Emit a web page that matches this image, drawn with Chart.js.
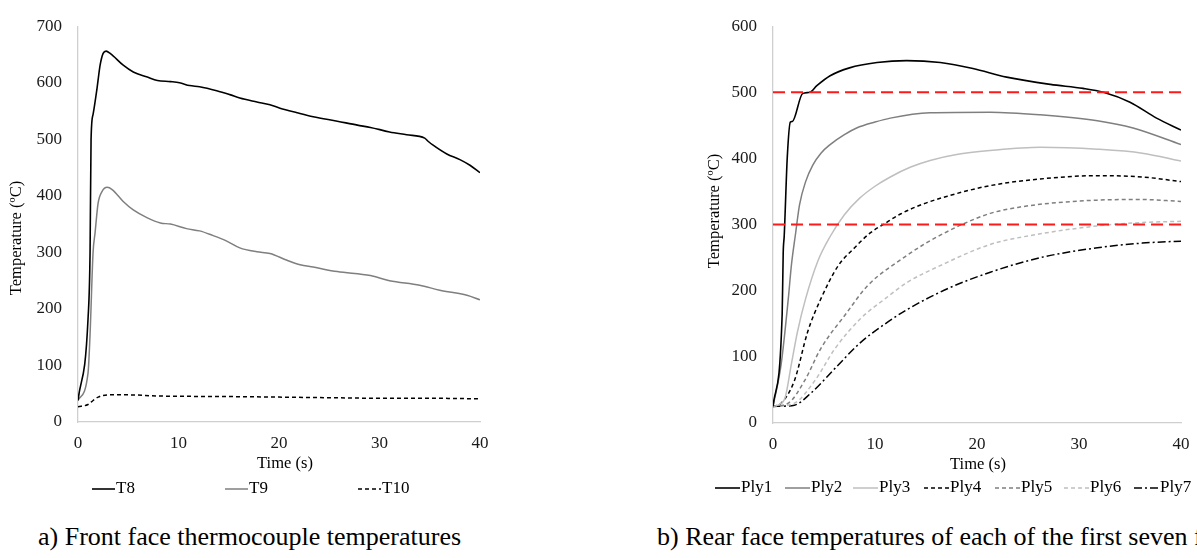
<!DOCTYPE html>
<html>
<head>
<meta charset="utf-8">
<script src="https://cdn.jsdelivr.net/npm/chart.js@4.4.1/dist/chart.umd.min.js"></script>
<style>
  html, body { margin: 0; padding: 0; background: #fff; width: 1197px; height: 558px; overflow: hidden; position: relative; }
  #c1 { position: absolute; left: 0; top: 0; }
  #c2 { position: absolute; left: 600px; top: 0; }
  .cap { position: absolute; font-family: "Liberation Serif", "Times New Roman", serif; font-size: 26px; line-height: 26px; white-space: nowrap; color: #000; }
</style>
</head>
<body>
<canvas id="c1" width="600" height="520"></canvas>
<canvas id="c2" width="640" height="520"></canvas>
<div class="cap" style="left:38px; top:524px;">a) Front face thermocouple temperatures</div>
<div class="cap" style="left:657px; top:524px;">b) Rear face temperatures of each of the first seven fabric plies</div>
<script>
// ---------- Data: front face (chart a) ----------
const labelsA = ["T8", "T9", "T10"];
const timeT8 = [0, 1.0, 1.2, 1.3, 1.5, 1.9, 2.2, 2.5, 2.8, 3.2, 4.5, 5.5, 6.9, 7.9, 9.2, 10.1, 11.1, 12.1, 13.8, 15.1, 16.1, 17.8, 19.1, 20.1, 21.8, 23.4, 25.8, 27.8, 29.1, 31, 32.7, 34.5, 34.8, 35.3, 36.7, 38, 39, 40];
const valT8  = [38, 183, 300, 500, 544, 591, 631, 652, 656, 652, 631, 619, 610, 604, 602, 600, 595, 593, 586, 579, 573, 566, 561, 555, 547, 540, 532, 525, 521, 513, 508, 502, 497, 490, 474, 464, 454, 441];
const timeT9 = [0, 1.0, 1.2, 1.5, 1.7, 2.0, 2.4, 2.9, 3.4, 4.5, 5.5, 6.9, 8.2, 9.2, 10.8, 12.1, 13.4, 14.8, 16.1, 17.8, 19.1, 20.8, 22.1, 23.4, 25.8, 29.1, 31, 34, 36, 38.7, 40];
const valT9  = [38, 87, 155, 300, 335, 387, 408, 415, 411, 390, 375, 361, 352, 350, 342, 338, 330, 320, 308, 301, 298, 286, 278, 274, 266, 259, 250, 242, 233, 224, 216];
const timeT10 = [0, 1.0, 1.5, 2, 3, 5, 8, 15, 20, 25, 30, 35, 40];
const valT10  = [27, 31, 38, 44, 48, 48, 46, 45, 44, 43, 42, 42, 41];

// ---------- Data: rear face plies (chart b) ----------
const labelsB = ["Ply1", "Ply2", "Ply3", "Ply4", "Ply5", "Ply6", "Ply7"];
const timeP1 = [0, 0.9, 1.0, 1.1, 1.4, 1.7, 1.9, 2.9, 3.6, 4.3, 5.6, 7.5, 10.2, 13.1, 16.4, 19.6, 22.9, 27.2, 30.4, 32.4, 35, 37.6, 40];
const valP1  = [25, 165, 257, 283, 402, 455, 456, 498, 500, 510, 525, 537, 545, 548, 545, 536, 523, 512, 506, 500, 485, 461, 443];
const timeP2 = [0, 0.8, 1.5, 1.8, 2.2, 2.6, 3.2, 3.9, 4.7, 5.6, 7, 8.2, 10, 11.5, 15.4, 21.3, 26.2, 31.8, 35.3, 40];
const valP2  = [25, 89, 188, 238, 285, 330, 365, 390, 408, 421, 436, 446, 455, 461, 469, 470, 466, 457, 446, 421];
const timeP3 = [0, 0.6, 1.2, 1.8, 2.4, 3.2, 4.4, 5.6, 7, 8.5, 10, 11.5, 13.5, 15.4, 18, 21.3, 26.2, 31.8, 36.2, 40];
const valP3  = [25, 28, 39, 89, 138, 188, 245, 282, 315, 340, 358, 372, 387, 397, 406, 412, 417, 414, 408, 396];
const timeP4 = [0, 0.8, 2.1, 3.4, 4.7, 6.4, 8, 9.5, 11, 12.5, 14.7, 17.1, 21.3, 26.2, 31.8, 36.2, 40];
const valP4  = [25, 30, 64, 138, 188, 238, 265, 287, 302, 316, 331, 343, 359, 369, 374, 372, 365];
const timeP5 = [0, 1.5, 3.1, 4.7, 7.1, 9.3, 13, 15, 16.4, 18.5, 21.3, 24, 27, 31.8, 36, 40];
const valP5  = [25, 30, 64, 113, 164, 208, 252, 272, 284, 300, 317, 326, 332, 337, 338, 335];
const timeP6 = [0, 2.1, 4.1, 6.1, 8.6, 11, 13.2, 16.4, 21.3, 26.2, 31.8, 36, 40];
const valP6  = [25, 30, 64, 113, 158, 188, 213, 238, 270, 286, 298, 303, 305];
const timeP7 = [0, 2.1, 3.7, 6.1, 8.6, 11, 13.2, 17.1, 21.3, 26.2, 31.8, 36.2, 40];
const valP7  = [25, 27, 45, 83, 122, 150, 172, 203, 228, 250, 265, 272, 275];
const limitTimes = [0, 40];
const limitUpper = [500, 500];
const limitLower = [300, 300];

// ---------- Axis ticks / text ----------
const xTicks = [0, 10, 20, 30, 40];
const yMaxA = 700, yMaxB = 600, yStep = 100;
const yTitle = "Temperature (\u00baC)";
const xTitle = "Time (s)";

const FONT = '"Liberation Serif", "Times New Roman", serif';
const pts = (ts, vs) => ts.map((t, i) => ({ x: t, y: vs[i] }));

const axisTexts = {
  id: 'axisTexts',
  afterDraw(chart, args, opts) {
    const ctx = chart.ctx;
    ctx.save();
    ctx.fillStyle = opts.color;
    ctx.font = opts.font;
    ctx.textAlign = 'center';
    ctx.textBaseline = 'middle';
    for (const it of opts.items) {
      ctx.save();
      ctx.translate(it.x, it.y);
      if (it.rotate) ctx.rotate(-Math.PI / 2);
      ctx.fillText(it.text, 0, 0);
      ctx.restore();
    }
    ctx.restore();
  }
};

const lineLegend = {
  id: 'lineLegend',
  afterDraw(chart, args, opts) {
    const ctx = chart.ctx;
    chart.data.datasets.forEach((ds, i) => {
      const x = opts.xs[i];
      if (x == null) return;
      ctx.save();
      ctx.strokeStyle = ds.borderColor;
      ctx.lineWidth = ds.borderWidth;
      ctx.setLineDash(ds.borderDash || []);
      ctx.beginPath();
      ctx.moveTo(x, opts.y);
      ctx.lineTo(x + opts.len, opts.y);
      ctx.stroke();
      ctx.setLineDash([]);
      ctx.fillStyle = '#000';
      ctx.font = opts.font;
      ctx.textAlign = 'left';
      ctx.textBaseline = 'middle';
      ctx.fillText(ds.label, x + opts.len + 1, opts.y);
      ctx.restore();
    });
  }
};

function lineDs(label, ts, vs, color, dash, width) {
  return {
    label, data: pts(ts, vs), borderColor: color, backgroundColor: color,
    borderWidth: width || 1.5, borderDash: dash || [], pointRadius: 0,
    cubicInterpolationMode: 'monotone', fill: false, order: 1
  };
}

function scales(yMax, yWidth) {
  const tickFont = { family: FONT, size: 17 };
  return {
    x: {
      type: 'linear', min: 0, max: 40,
      afterBuildTicks: (s) => { s.ticks = xTicks.map(v => ({ value: v })); },
      ticks: { font: tickFont, color: '#1a1a1a', padding: 11, maxRotation: 0 },
      grid: { display: false, drawTicks: false },
      border: { display: true, color: '#cfcfcf', width: 1.3 },
      afterFit: (s) => { s.height = 30; }
    },
    y: {
      min: 0, max: yMax,
      ticks: { stepSize: yStep, font: tickFont, color: '#1a1a1a', padding: 16 },
      grid: { display: false, drawTicks: false },
      border: { display: true, color: '#cfcfcf', width: 1.3 },
      afterFit: (s) => { s.width = yWidth; }
    }
  };
}

new Chart(document.getElementById('c1'), {
  type: 'line',
  data: {
    datasets: [
      lineDs(labelsA[0], timeT8, valT8, '#000000', [], 1.6),
      lineDs(labelsA[1], timeT9, valT9, '#7f7f7f', [], 1.5),
      lineDs(labelsA[2], timeT10, valT10, '#000000', [4, 3], 1.5)
    ]
  },
  options: {
    responsive: false, animation: false, events: [],
    layout: { padding: { left: 0, right: 120, top: 21, bottom: 68 } },
    plugins: {
      legend: { display: false }, tooltip: { enabled: false },
      axisTexts: { font: '16.5px ' + FONT, color: '#000', items: [
        { text: yTitle, x: 17, y: 238, rotate: true },
        { text: xTitle, x: 285, y: 464 }
      ] },
      lineLegend: { xs: [92, 225, 358], y: 489, len: 23, font: '17px ' + FONT }
    },
    scales: scales(yMaxA, 78)
  },
  plugins: [axisTexts, lineLegend]
});

const redDs = (vals) => ({
  label: '', data: pts(limitTimes, vals), borderColor: '#ff1a1a', borderWidth: 2,
  borderDash: [12, 6], pointRadius: 0, fill: false, order: 0
});

new Chart(document.getElementById('c2'), {
  type: 'line',
  data: {
    datasets: [
      lineDs(labelsB[0], timeP1, valP1, '#000000', [], 1.6),
      lineDs(labelsB[1], timeP2, valP2, '#7f7f7f', [], 1.5),
      lineDs(labelsB[2], timeP3, valP3, '#bfbfbf', [], 1.5),
      lineDs(labelsB[3], timeP4, valP4, '#000000', [4, 3], 1.5),
      lineDs(labelsB[4], timeP5, valP5, '#7f7f7f', [4, 3], 1.5),
      lineDs(labelsB[5], timeP6, valP6, '#bfbfbf', [4, 3], 1.5),
      lineDs(labelsB[6], timeP7, valP7, '#000000', [8, 3, 2, 3], 1.5),
      redDs(limitUpper),
      redDs(limitLower)
    ]
  },
  options: {
    responsive: false, animation: false, events: [],
    layout: { padding: { left: 100, right: 59, top: 20, bottom: 67 } },
    plugins: {
      legend: { display: false }, tooltip: { enabled: false },
      axisTexts: { font: '16.5px ' + FONT, color: '#000', items: [
        { text: yTitle, x: 115, y: 211, rotate: true },
        { text: xTitle, x: 378, y: 465 }
      ] },
      lineLegend: { xs: [115, 185, 253, 324, 395, 464, 534, null, null], y: 488, len: 25, font: '17px ' + FONT }
    },
    scales: scales(yMaxB, 73)
  },
  plugins: [axisTexts, lineLegend]
});
</script>
</body>
</html>
